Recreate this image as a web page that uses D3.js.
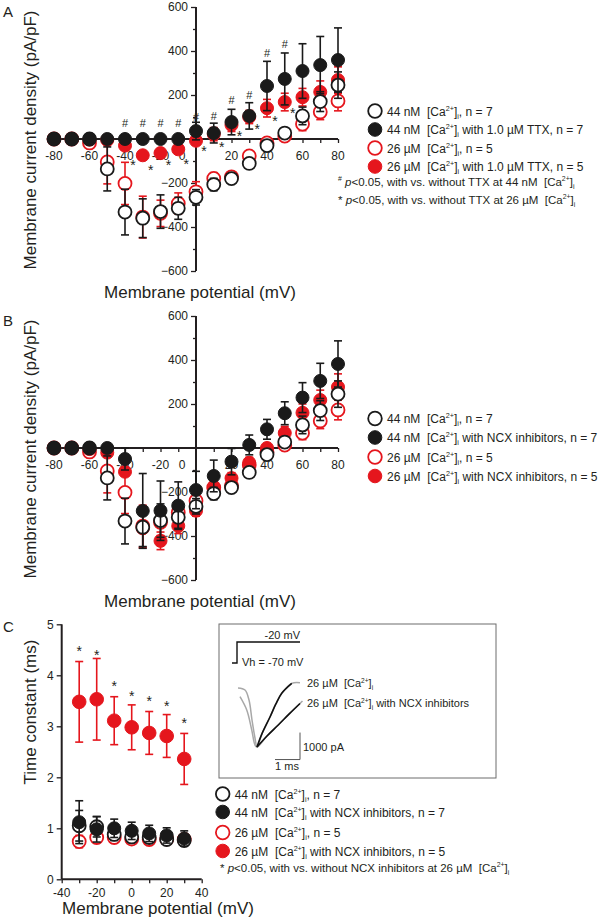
<!DOCTYPE html>
<html><head><meta charset="utf-8">
<script src="https://cdn.jsdelivr.net/npm/d3@7"></script>
<style>
body{margin:0;background:#fff}
text{font-family:"Liberation Sans",Arial,sans-serif;fill:#231f20;white-space:pre}
</style>
</head><body>
<svg id="c" width="600" height="919"></svg>
<script>
// ---------------- DATA ----------------
const voltages = [-80,-70,-60,-50,-40,-30,-20,-10,0,10,20,30,40,50,60,70,80];
// control series (shared by panels A and B)
const ctrl44 = [0,0,0,-136,-332,-360,-330,-315,-265,-207,-180,-111,-30,27,105,170,245];
const ctrl44Sem = [0,0,0,100,104,88,76,50,35,28,15,15,12,12,40,45,60];
const ctrl26 = [0,0,-18,-104,-202,-355,-338,-293,-240,-179,-172,-77,-18,13,68,123,173];
const ctrl26Sem = [0,0,5,100,96,95,60,48,46,26,20,20,15,15,30,35,45];
// panel A : TTX
const ttx44 = [0,0,0,0,0,0,0,0,36,27,77,105,241,273,309,336,359];
const ttx44Sem = [0,0,0,0,0,0,0,0,40,45,58,60,112,118,124,130,146];
const ttx26 = [0,0,-3,-5,-30,-74,-64,-47,-8,22,64,100,140,168,190,214,268];
const ttx26Sem = [0,0,3,5,10,10,12,10,10,30,30,30,40,40,40,50,60];
// panel A significance marks (mV, pA/pF position)
const hashV = [-40,-30,-20,-10,0,10,20,30,40,50];
const hashY = [73,73,73,73,100,105,177,200,391,432];
const starAV = [-40,-30,-20,-10,0,10,20,30,40,50];
const starAY = [-105,-127,-105,-100,-41,-23,27,59,95,132];
// panel B : NCX inhibitors
const ncx44 = [0,0,0,0,-50,-286,-285,-262,-191,-127,-62,14,85,158,229,305,382];
const ncx44Sem = [0,0,0,0,50,170,135,108,85,72,60,45,45,52,68,80,105];
const ncx26 = [0,0,-5,-21,-108,-365,-422,-354,-285,-185,-137,-67,0,68,160,218,277];
const ncx26Sem = [0,0,5,10,20,90,40,35,25,25,25,25,20,30,40,45,60];
// panel C : time constants
const tauV = [-30,-20,-10,0,10,20,30];
const tauCtrl44 = [1.05,1.03,0.88,0.83,0.82,0.78,0.76];
const tauCtrl44Sem = [0.3,0.2,0.12,0.1,0.1,0.08,0.08];
const tauNcx44 = [1.12,0.98,1.0,0.95,0.9,0.86,0.8];
const tauNcx44Sem = [0.42,0.25,0.18,0.17,0.16,0.15,0.15];
const tauCtrl26 = [0.74,0.82,0.82,0.79,0.78,0.79,0.78];
const tauCtrl26Sem = [0.12,0.1,0.1,0.08,0.08,0.08,0.08];
const tauNcx26 = [3.48,3.53,3.11,2.98,2.87,2.81,2.36];
const tauNcx26Sem = [0.79,0.8,0.47,0.44,0.42,0.42,0.5];
const starC = [4.54,4.46,3.84,3.66,3.55,3.45,3.12];
// inset traces (ms, pA)
const stepT = [0,0.2,2.72];
const stepV = [-70,-20,-20];
const trace26 = [[0.24,0],[0.52,-74],[0.68,-444],[0.8,-1185],[0.92,-1852],[1.0,-2185],[1.2,-1690],[1.52,-1074],[1.75,-600],[1.99,-196],[2.39,170],[2.72,195]];
const fit26 = [[1.0,-2185],[1.2,-1690],[1.52,-1074],[1.75,-600],[1.99,-196],[2.39,170]];
const traceNcx = [[0.32,-321],[0.59,-815],[0.79,-1556],[0.92,-2111],[1.0,-2185],[1.4,-1780],[1.85,-1370],[2.3,-950],[2.72,-574],[2.82,-480]];
const fitNcx = [[1.0,-2185],[1.4,-1780],[1.85,-1370],[2.3,-950],[2.72,-574]];
// tick labels
const ivXTicks = [-80,-60,-40,-20,0,20,40,60,80];
const ivYTicks = [-600,-400,-200,200,400,600];
const tauXTicks = [-40,-20,0,20,40];
const tauYTicks = [0,1,2,3,4,5];

// ---------------- HELPERS ----------------
const RED = "#e5161d", BLK = "#1a1a1a", AX = "#231f20";
const svg = d3.select("#c");
function ca(pre, post){ return [{t:pre+"[Ca"},{t:"2+",sup:1},{t:"]"},{t:"i",sub:1},{t:post}]; }
function rich(g, x, y, segs, size, anchor){
  const t = g.append("text").attr("x",x).attr("y",y).attr("font-size",size);
  if(anchor) t.attr("text-anchor",anchor);
  let off = 0;
  segs.forEach(s=>{
    const sp = t.append("tspan").text(s.t);
    let target = 0;
    if(s.sup){ target = -0.4*size; sp.attr("font-size",0.6*size); }
    if(s.sub){ target = 0.28*size; sp.attr("font-size",0.6*size); }
    if(target-off!==0) sp.attr("dy",target-off);
    off = target;
    if(s.it) sp.attr("font-style","italic");
  });
  return t;
}
function series(g, x, y, xs, vals, sem, color, filled, r){
  const pts = xs.map((v,i)=>({x:v,v:vals[i],s:sem[i]}));
  const eb = g.append("g").attr("stroke",color).attr("stroke-width",1.6).attr("fill","none");
  pts.filter(d=>d.s>0).forEach(d=>{
    const cx=x(d.x), y1=y(d.v+d.s), y2=y(d.v-d.s);
    eb.append("line").attr("x1",cx).attr("x2",cx).attr("y1",y1).attr("y2",y2);
    eb.append("line").attr("x1",cx-4).attr("x2",cx+4).attr("y1",y1).attr("y2",y1);
    eb.append("line").attr("x1",cx-4).attr("x2",cx+4).attr("y1",y2).attr("y2",y2);
  });
  g.append("g").selectAll("circle").data(pts).join("circle")
    .attr("cx",d=>x(d.x)).attr("cy",d=>y(d.v)).attr("r",r)
    .attr("fill",filled?color:"#fff").attr("stroke",color).attr("stroke-width",filled?1:1.8);
}
function legend(g, x0, rows, size){
  rows.forEach(r=>{
    g.append("circle").attr("cx",x0).attr("cy",r.y).attr("r",6.8)
      .attr("fill",r.filled?r.color:"#fff").attr("stroke",r.color).attr("stroke-width",r.filled?1:1.8);
    rich(g, x0+12, r.y+4.5, r.text, size);
  });
}

// ---------------- IV PANELS ----------------
function ivPanel(top, letter, s3, s4, legendRows){
  const g = svg.append("g");
  const x = d3.scaleLinear().domain([-80,80]).range([54,338]);
  const y = d3.scaleLinear().domain([-600,600]).range([top+264,top]);
  const y0 = y(0), x0 = x(0);
  const ya = g.append("g").attr("transform",`translate(${x0},0)`)
    .call(d3.axisLeft(y).tickValues(ivYTicks).tickSize(5).tickPadding(3).tickSizeOuter(0));
  ya.select(".domain").remove();
  ya.selectAll("text").attr("font-size",12).attr("font-family","Liberation Sans, Arial").attr("fill",AX);
  ya.selectAll("line").attr("stroke",AX).attr("stroke-width",1.3);
  const ym = g.append("g").attr("transform",`translate(${x0},0)`)
    .call(d3.axisLeft(y).tickValues([-500,-300,-100,100,300,500]).tickSize(3).tickFormat(""));
  ym.select(".domain").remove();
  ym.selectAll("line").attr("stroke",AX).attr("stroke-width",1.3);
  g.append("line").attr("x1",x0).attr("x2",x0).attr("y1",y(600)).attr("y2",y(-600)).attr("stroke",AX).attr("stroke-width",2);
  const xa = g.append("g").attr("transform",`translate(0,${y0})`)
    .call(d3.axisBottom(x).tickValues(voltages.filter(v=>v!==0)).tickSize(4).tickFormat("").tickSizeOuter(0));
  xa.select(".domain").remove();
  xa.selectAll("line").attr("stroke",AX).attr("stroke-width",1.3);
  ivXTicks.forEach(v=>{
    g.append("text").attr("x",v===0?x(v)-14:x(v)).attr("y",y0+20.5).attr("text-anchor","middle")
      .attr("font-size",12).text(v);
  });
  g.append("line").attr("x1",x(-84)).attr("x2",x(80)).attr("y1",y0).attr("y2",y0).attr("stroke",AX).attr("stroke-width",2);
  g.append("text").attr("x",200).attr("y",y0+159).attr("text-anchor","middle").attr("font-size",17).text("Membrane potential (mV)");
  g.append("text").attr("transform",`translate(36,${y0+1}) rotate(-90)`).attr("text-anchor","middle").attr("font-size",17)
    .text("Membrane current density (pA/pF)");
  g.append("text").attr("x",3).attr("y",top+10).attr("font-size",15).text(letter);
  series(g,x,y,voltages,ctrl26,ctrl26Sem,RED,false,6.5);
  series(g,x,y,voltages,s4[0],s4[1],RED,true,6.5);
  series(g,x,y,voltages,ctrl44,ctrl44Sem,BLK,false,6.5);
  series(g,x,y,voltages,s3[0],s3[1],BLK,true,6.5);
  legend(g,375,legendRows,12);
  return {g,x,y};
}

const A = ivPanel(7,"A",[ttx44,ttx44Sem],[ttx26,ttx26Sem],[
  {y:111,filled:false,color:BLK,text:ca("44 nM  ",", n = 7")},
  {y:129.5,filled:true,color:BLK,text:ca("44 nM  "," with 1.0 µM TTX, n = 7")},
  {y:148,filled:false,color:RED,text:ca("26 µM  ",", n = 5")},
  {y:166.5,filled:true,color:RED,text:ca("26 µM  "," with 1.0 µM TTX, n = 5")}
]);
hashV.forEach((v,i)=>{
  A.g.append("text").attr("x",A.x(v)).attr("y",A.y(hashY[i])+4).attr("text-anchor","middle").attr("font-size",11).text("#");
});
starAV.forEach((v,i)=>{
  A.g.append("text").attr("x",A.x(v+4.5)).attr("y",A.y(starAY[i])+8).attr("text-anchor","middle").attr("font-size",14).text("*");
});
rich(A.g,338,186,[{t:"#",sup:1},{t:" "},{t:"p",it:1},{t:"<0.05, with vs. without TTX at 44 nM  [Ca"},{t:"2+",sup:1},{t:"]"},{t:"i",sub:1}],11.5);
rich(A.g,338,204,[{t:"* "},{t:"p",it:1},{t:"<0.05, with vs. without TTX at 26 µM  [Ca"},{t:"2+",sup:1},{t:"]"},{t:"i",sub:1}],11.5);

const B = ivPanel(316,"B",[ncx44,ncx44Sem],[ncx26,ncx26Sem],[
  {y:418.5,filled:false,color:BLK,text:ca("44 nM  ",", n = 7")},
  {y:437.5,filled:true,color:BLK,text:ca("44 nM  "," with NCX inhibitors, n = 7")},
  {y:457,filled:false,color:RED,text:ca("26 µM  ",", n = 5")},
  {y:476,filled:true,color:RED,text:ca("26 µM  "," with NCX inhibitors, n = 5")}
]);

// ---------------- PANEL C ----------------
(function(){
  const g = svg.append("g");
  const x = d3.scaleLinear().domain([-40,40]).range([61.7,201.7]);
  const y = d3.scaleLinear().domain([0,5]).range([879.3,624.3]);
  const ya = g.append("g").attr("transform",`translate(${x(-40)},0)`)
    .call(d3.axisLeft(y).tickValues(tauYTicks).tickFormat(d3.format("d")).tickSize(5).tickPadding(3).tickSizeOuter(0));
  ya.select(".domain").remove();
  ya.selectAll("text").attr("font-size",12).attr("font-family","Liberation Sans, Arial").attr("fill",AX);
  ya.selectAll("line").attr("stroke",AX).attr("stroke-width",1.3);
  g.append("line").attr("x1",x(-40)).attr("x2",x(-40)).attr("y1",y(5)).attr("y2",y(0)).attr("stroke",AX).attr("stroke-width",2);
  const xa = g.append("g").attr("transform",`translate(0,${y(0)})`)
    .call(d3.axisBottom(x).tickValues([-40,-30,-20,-10,0,10,20,30,40]).tickSize(4).tickFormat("").tickSizeOuter(0));
  xa.select(".domain").remove();
  xa.selectAll("line").attr("stroke",AX).attr("stroke-width",1.3);
  tauXTicks.forEach(v=>{
    g.append("text").attr("x",x(v)).attr("y",y(0)+18).attr("text-anchor","middle").attr("font-size",12).text(v);
  });
  g.append("line").attr("x1",x(-40)).attr("x2",x(40)).attr("y1",y(0)).attr("y2",y(0)).attr("stroke",AX).attr("stroke-width",2);
  g.append("text").attr("x",158).attr("y",914).attr("text-anchor","middle").attr("font-size",17).text("Membrane potential (mV)");
  g.append("text").attr("transform","translate(36,712) rotate(-90)").attr("text-anchor","middle").attr("font-size",17).text("Time constant (ms)");
  g.append("text").attr("x",3).attr("y",632).attr("font-size",15).text("C");

  series(g,x,y,tauV,tauCtrl26,tauCtrl26Sem,RED,false,6.5);
  series(g,x,y,tauV,tauCtrl44,tauCtrl44Sem,BLK,false,6.5);
  series(g,x,y,tauV,tauNcx44,tauNcx44Sem,BLK,true,6.5);
  series(g,x,y,tauV,tauNcx26,tauNcx26Sem,RED,true,6.8);
  tauV.forEach((v,i)=>{
    g.append("text").attr("x",x(v)).attr("y",y(starC[i])+8).attr("text-anchor","middle").attr("font-size",14).text("*");
  });
  legend(g,222.7,[
    {y:794,filled:false,color:BLK,text:ca("44 nM  ",", n = 7")},
    {y:812,filled:true,color:BLK,text:ca("44 nM  "," with NCX inhibitors, n = 7")},
    {y:832.5,filled:false,color:RED,text:ca("26 µM  ",", n = 5")},
    {y:851,filled:true,color:RED,text:ca("26 µM  "," with NCX inhibitors, n = 5")}
  ],12);
  rich(g,220,872,[{t:"* "},{t:"p",it:1},{t:"<0.05, with vs. without NCX inhibitors at 26 µM  [Ca"},{t:"2+",sup:1},{t:"]"},{t:"i",sub:1}],11.5);

  // inset
  const ig = svg.append("g");
  ig.append("rect").attr("x",219).attr("y",624).attr("width",277).attr("height",154).attr("fill","none").attr("stroke","#6d6d6d").attr("stroke-width",1);
  const tS = d3.scaleLinear().domain([0,1]).range([232,257]);
  const iS = d3.scaleLinear().domain([0,-1000]).range([688,715]);
  const vS = d3.scaleLinear().domain([-70,-20]).range([663,642]);
  ig.append("path").attr("d",d3.line().curve(d3.curveStepAfter).x(d=>tS(d)).y((d,i)=>vS(stepV[i]))(stepT))
    .attr("fill","none").attr("stroke","#111").attr("stroke-width",1.4);
  ig.append("text").attr("x",300).attr("y",639).attr("text-anchor","end").attr("font-size",11).text("-20 mV");
  ig.append("text").attr("x",242).attr("y",665.5).attr("font-size",11).text("Vh = -70 mV");
  const ln2 = d3.line().curve(d3.curveCatmullRom).x(d=>tS(d[0])).y(d=>iS(d[1]));
  ig.append("path").attr("d",ln2(trace26)).attr("fill","none").attr("stroke","#a8a8a8").attr("stroke-width",1.5);
  ig.append("path").attr("d",ln2(traceNcx)).attr("fill","none").attr("stroke","#a8a8a8").attr("stroke-width",1.5);
  ig.append("path").attr("d",ln2(fit26)).attr("fill","none").attr("stroke","#111").attr("stroke-width",1.6);
  ig.append("path").attr("d",ln2(fitNcx)).attr("fill","none").attr("stroke","#111").attr("stroke-width",1.6);
  rich(ig,307,687,ca("26 µM  ",""),11);
  rich(ig,307,707,ca("26 µM  "," with NCX inhibitors"),11);
  ig.append("line").attr("x1",tS(1.72)).attr("x2",tS(2.72)).attr("y1",iS(-2650)).attr("y2",iS(-2650)).attr("stroke","#555").attr("stroke-width",1);
  ig.append("line").attr("x1",tS(2.72)).attr("x2",tS(2.72)).attr("y1",iS(-2650)).attr("y2",iS(-1650)).attr("stroke","#555").attr("stroke-width",1);
  ig.append("text").attr("x",303).attr("y",750.5).attr("font-size",11).text("1000 pA");
  ig.append("text").attr("x",287).attr("y",770).attr("text-anchor","middle").attr("font-size",11).text("1 ms");
})();
</script>
</body></html>
